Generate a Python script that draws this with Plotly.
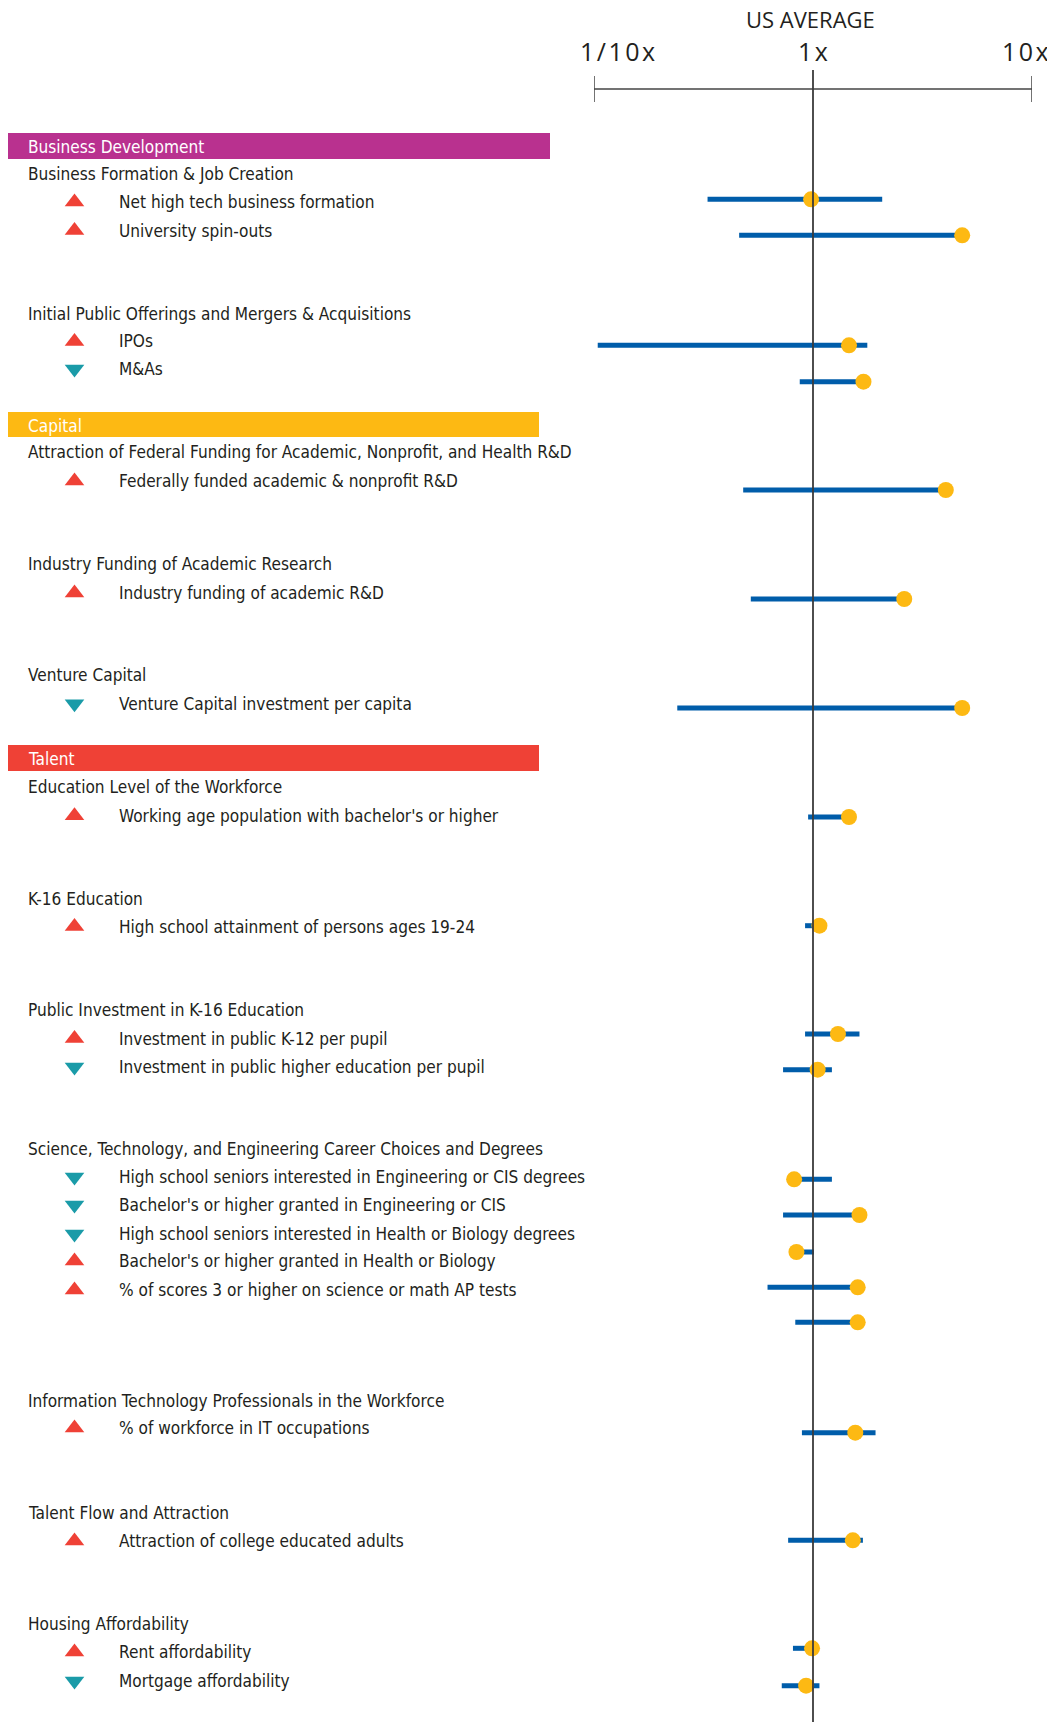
import math
import plotly.graph_objects as go

# sections and their group headers
sections = ["Business Development", "Capital", "Talent"]
section_colors = ["#B9318F", "#FDB913", "#EF4136"]

groups = [
    ("Business Development", "Business Formation & Job Creation"),
    ("Business Development", "Initial Public Offerings and Mergers & Acquisitions"),
    ("Capital", "Attraction of Federal Funding for Academic, Nonprofit, and Health R&D"),
    ("Capital", "Industry Funding of Academic Research"),
    ("Capital", "Venture Capital"),
    ("Talent", "Education Level of the Workforce"),
    ("Talent", "K-16 Education"),
    ("Talent", "Public Investment in K-16 Education"),
    ("Talent", "Science, Technology, and Engineering Career Choices and Degrees"),
    ("Talent", "Information Technology Professionals in the Workforce"),
    ("Talent", "Talent Flow and Attraction"),
    ("Talent", "Housing Affordability"),
]

indicators = [
    "Net high tech business formation",
    "University spin-outs",
    "IPOs",
    "M&As",
    "Federally funded academic & nonprofit R&D",
    "Industry funding of academic R&D",
    "Venture Capital investment per capita",
    "Working age population with bachelor's or higher",
    "High school attainment of persons ages 19-24",
    "Investment in public K-12 per pupil",
    "Investment in public higher education per pupil",
    "High school seniors interested in Engineering or CIS degrees",
    "Bachelor's or higher granted in Engineering or CIS",
    "High school seniors interested in Health or Biology degrees",
    "Bachelor's or higher granted in Health or Biology",
    "% of scores 3 or higher on science or math AP tests",
    "% of workforce in IT occupations",
    "Attraction of college educated adults",
    "Rent affordability",
    "Mortgage affordability",
]
trend = ["up", "up", "up", "down", "up", "up", "down", "up", "up", "up", "down",
         "down", "down", "down", "up", "up", "up", "up", "up", "down"]

# multiples of the US average
low = [0.33, 0.46, 0.104, 0.87, 0.48, 0.52, 0.24, 0.95, 0.92, 0.92, 0.73,
       0.82, 0.73, 0.84, 0.62, 0.83, 0.89, 0.77, 0.81, 0.72]
high = [2.07, 4.8, 1.77, 1.70, 4.04, 2.61, 4.8, 1.46, 1.07, 1.63, 1.22,
        1.22, 1.63, 1.01, 1.60, 1.60, 1.93, 1.69, 0.99, 1.07]
value = [0.98, 4.8, 1.46, 1.70, 4.04, 2.61, 4.8, 1.46, 1.07, 1.30, 1.05,
         0.82, 1.63, 0.84, 1.60, 1.60, 1.56, 1.52, 0.99, 0.93]

tick_vals = [0.1, 1, 10]
tick_text = ["1/10x", "1x", "10x"]

# ---- layout (pixel rows, page coordinates) ----
W, H = 1055, 1722
OFF = 8  # page body margin
FONT = "DejaVu Sans Condensed, Liberation Sans Narrow, Roboto, sans-serif"
TXT = "#231F20"
FS = 17.1
band_rows = [(133, 159, 550), (412, 437, 539), (745, 771, 539)]
group_rows = [173.5, 314, 452, 564, 675, 787, 899, 1010, 1149, 1401, 1513, 1624]
item_rows = [202, 230.5, 341.4, 368.9, 481, 593, 703.7, 815.7, 926.5, 1038.5, 1067,
             1177, 1205, 1234, 1261, 1290, 1428, 1541, 1652, 1681]
bar_rows = [199.3, 235.3, 345.3, 381.7, 490, 599, 708, 817, 925.7, 1034, 1069.7,
            1179.3, 1215, 1252, 1287.3, 1322.3, 1432.7, 1540.3, 1648.3, 1685.7]
axis_y = 89
scale_left, scale_right = 594, 1032

fig = go.Figure()

# range bars (log axis x2)
bx, by = [], []
for lo, hi, y in zip(low, high, bar_rows):
    bx += [lo, hi, None]
    by += [y, y, None]
fig.add_trace(go.Scatter(x=bx, y=by, xaxis="x2", mode="lines",
                         line=dict(color="#005DAA", width=5),
                         hoverinfo="skip", showlegend=False))
fig.add_trace(go.Scatter(x=value, y=bar_rows, xaxis="x2", mode="markers", text=indicators,
                         marker=dict(color="#FDB913", size=16),
                         hovertemplate="%{text}: %{x:.2f}x<extra></extra>", showlegend=False))

# trend triangles in the left column (pixel axis x)
fig.add_trace(go.Scatter(
    x=[74.5] * len(trend), y=item_rows, mode="markers",
    marker=dict(symbol=["triangle-up" if t == "up" else "triangle-down" for t in trend],
                color=["#EF4136" if t == "up" else "#1A9BA8" for t in trend], size=17),
    hoverinfo="skip", showlegend=False))

shapes = []
annotations = []
for name, color, (y0, y1, x1) in zip(sections, section_colors, band_rows):
    shapes.append(dict(type="rect", xref="x", yref="y", x0=6.5, x1=x1, y0=y0, y1=y1,
                       fillcolor=color, line=dict(width=0), layer="below"))
    annotations.append(dict(text=name, xref="x", yref="y", x=26, y=(y0 + y1) / 2 + 1,
                            xanchor="left", yanchor="middle", showarrow=False,
                            font=dict(family=FONT, size=FS, color="white")))
for (sec, g), y in zip(groups, group_rows):
    annotations.append(dict(text=g, xref="x", yref="y", x=26, y=y, xanchor="left",
                            yanchor="middle", showarrow=False,
                            font=dict(family=FONT, size=FS, color=TXT)))
for name, y in zip(indicators, item_rows):
    annotations.append(dict(text=name, xref="x", yref="y", x=117, y=y, xanchor="left",
                            yanchor="middle", showarrow=False,
                            font=dict(family=FONT, size=FS, color=TXT)))

# scale at the top
shapes.append(dict(type="line", xref="x2", yref="y", x0=tick_vals[0], x1=tick_vals[-1],
                   y0=axis_y, y1=axis_y, line=dict(color="#444", width=1.5)))
for v in tick_vals:
    if v == 1:
        shapes.append(dict(type="line", xref="x2", yref="y", x0=v, x1=v, y0=70, y1=H + OFF,
                           line=dict(color="#3a3a3a", width=1.8)))
    else:
        shapes.append(dict(type="line", xref="x2", yref="y", x0=v, x1=v, y0=76, y1=102,
                           line=dict(color="#444", width=1.5)))
shift = {0.1: 23, 1: 0, 10: -7}
for v, t in zip(tick_vals, tick_text):
    annotations.append(dict(text="\u200a".join(t), xref="x2", yref="y", x=math.log10(v), y=51,
                            xanchor="center", yanchor="middle", showarrow=False,
                            xshift=shift[v],
                            font=dict(family="Open Sans, DejaVu Sans, sans-serif", size=25, color=TXT)))
annotations.append(dict(text="US AVERAGE", xref="x2", yref="y", x=0, y=19, xanchor="center",
                        yanchor="middle", showarrow=False, xshift=-3,
                        font=dict(family="Open Sans, DejaVu Sans, sans-serif", size=22, color=TXT)))

fig.update_layout(
    width=W, height=H,
    margin=dict(l=0, r=0, t=0, b=0),
    paper_bgcolor="white", plot_bgcolor="white",
    xaxis=dict(range=[OFF, W + OFF], domain=[0, 1], visible=False),
    xaxis2=dict(type="log", range=[-1, 1],
                domain=[(scale_left - OFF) / W, (scale_right - OFF) / W],
                anchor="y", visible=False),
    yaxis=dict(range=[H + OFF, OFF], domain=[0, 1], visible=False),
    shapes=shapes, annotations=annotations,
)

fig.write_html("out.html")
